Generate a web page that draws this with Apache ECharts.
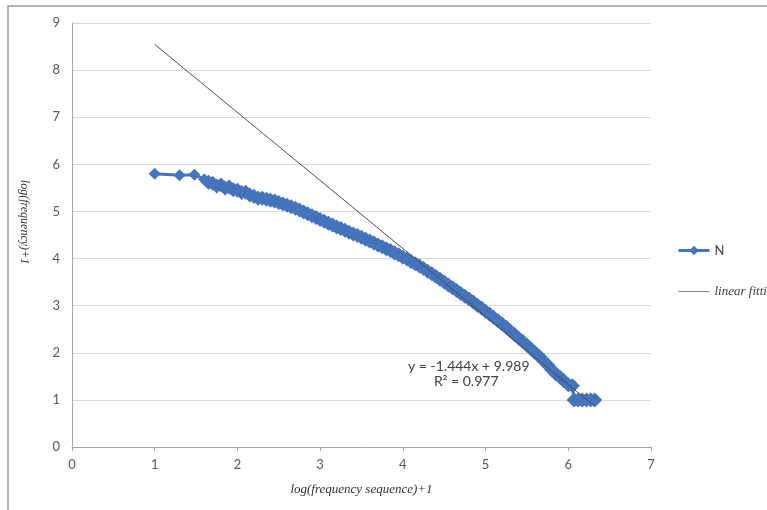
<!DOCTYPE html>
<html>
<head>
<meta charset="utf-8">
<script src="https://cdn.jsdelivr.net/npm/echarts@6/dist/echarts.min.js"></script>
<style>
  html, body { margin: 0; padding: 0; background: #fff; }
  #chart { width: 767px; height: 510px; }
</style>
</head>
<body>
<div id="chart"></div>
<script>
// N series: log(rank)+1 vs log(frequency)+1
const nX = [1.00, 1.30, 1.48, 1.60, 1.65, 1.70, 1.75, 1.80, 1.85, 1.90, 1.95, 2.00, 2.05, 2.10, 2.15, 2.20, 2.25, 2.30, 2.35, 2.40, 2.45,
  2.50, 2.55, 2.60, 2.65, 2.70, 2.75, 2.80, 2.85, 2.90, 2.95, 3.00, 3.05, 3.10, 3.15, 3.20, 3.25, 3.30, 3.35, 3.40, 3.45,
  3.50, 3.55, 3.60, 3.65, 3.70, 3.75, 3.80, 3.85, 3.90, 3.95, 4.00, 4.05, 4.10, 4.15, 4.20, 4.25, 4.30, 4.35, 4.40, 4.45,
  4.50, 4.55, 4.60, 4.65, 4.70, 4.75, 4.80, 4.85, 4.90, 4.95, 5.00, 5.05, 5.10, 5.15, 5.20, 5.25, 5.30, 5.35, 5.40, 5.45,
  5.50, 5.55, 5.60, 5.65, 5.70, 5.75, 5.80, 5.85, 5.90, 5.95, 6.00, 6.05, 6.07, 6.12, 6.17, 6.22, 6.27, 6.32]
const nY = [5.80, 5.77, 5.78, 5.68, 5.62, 5.60, 5.54, 5.56, 5.50, 5.52, 5.46, 5.45, 5.40, 5.41, 5.35, 5.32, 5.28, 5.28, 5.26, 5.24, 5.22,
  5.19, 5.16, 5.13, 5.10, 5.07, 5.03, 4.99, 4.95, 4.91, 4.87, 4.83, 4.79, 4.75, 4.71, 4.67, 4.64, 4.60, 4.56, 4.52, 4.49,
  4.45, 4.41, 4.37, 4.33, 4.29, 4.25, 4.21, 4.17, 4.12, 4.08, 4.03, 3.99, 3.94, 3.89, 3.84, 3.79, 3.73, 3.68, 3.62, 3.56,
  3.50, 3.44, 3.38, 3.32, 3.26, 3.20, 3.14, 3.08, 3.01, 2.95, 2.88, 2.82, 2.75, 2.68, 2.61, 2.54, 2.46, 2.39, 2.31, 2.24,
  2.16, 2.08, 2.00, 1.92, 1.83, 1.74, 1.64, 1.55, 1.48, 1.40, 1.32, 1.30, 1.00, 1.00, 1.00, 1.00, 1.00, 1.00]

// linear fitting y = -1.444x + 9.989, ends of the drawn line
const fitX = [1.00, 6.32]
const fitY = [8.545, 0.863]

const seriesNames = ['N', 'linear fitting']
const equationText = ['y = -1.444x + 9.989', 'R² = 0.977']

const labelColor = '#595959'
const labelFont = 'Lato'
const blue = '#4374BC'

let chart = echarts.init(document.getElementById('chart'))
chart.setOption({
  animation: false,
  grid: { left: 72, right: 116, top: 23, bottom: 63 },
  legend: {
    orient: 'vertical',
    left: 672,
    top: 239,
    padding: 5,
    itemWidth: 31,
    itemHeight: 12,
    itemGap: 28,
    data: [
      {
        name: seriesNames[0],
        lineStyle: { width: 3 },
        textStyle: { fontFamily: labelFont, fontSize: 13, color: '#404040' }
      },
      {
        name: seriesNames[1],
        lineStyle: { width: 1, color: '#7f7f7f' },
        itemStyle: { opacity: 0 },
        textStyle: { fontFamily: 'Liberation Serif', fontStyle: 'italic', fontSize: 13, color: '#404040' }
      }
    ]
  },
  xAxis: {
    type: 'value',
    min: 0,
    max: 7,
    interval: 1,
    name: 'log(frequency sequence)+1',
    nameLocation: 'middle',
    nameGap: 36,
    nameTextStyle: { fontFamily: 'Liberation Serif', fontStyle: 'italic', fontSize: 13, color: '#333' },
    axisLine: { lineStyle: { color: '#a6a6a6', width: 1 } },
    axisTick: { show: true, length: 4, lineStyle: { color: '#a6a6a6' } },
    axisLabel: { fontFamily: labelFont, fontSize: 13, color: labelColor, margin: 11 },
    splitLine: { show: false }
  },
  yAxis: {
    type: 'value',
    min: 0,
    max: 9,
    interval: 1,
    name: 'log(frequency)+1',
    nameLocation: 'middle',
    nameRotate: -90,
    nameGap: 42,
    nameTextStyle: { fontFamily: 'Liberation Serif', fontStyle: 'italic', fontSize: 12, color: '#333', padding: [0, 26, 0, 0] },
    axisLine: { show: true, lineStyle: { color: '#a6a6a6', width: 1 } },
    axisTick: { show: false },
    axisLabel: { fontFamily: labelFont, fontSize: 13, color: labelColor, margin: 12 },
    splitLine: { lineStyle: { color: '#d9d9d9', width: 1 } }
  },
  graphic: [
    {
      type: 'polyline',
      shape: { points: [[8, 510], [8, 6], [767, 6]] },
      style: { stroke: '#9a9a9a', lineWidth: 1.5, fill: null }
    },
    {
      type: 'text', left: 408, top: 359,
      style: { text: equationText[0], font: '14px Lato', fill: '#404040' }
    },
    {
      type: 'text', left: 434, top: 374,
      style: { text: equationText[1], font: '14px Lato', fill: '#404040' }
    }
  ],
  series: [
    {
      name: seriesNames[0],
      type: 'line',
      data: nX.map((x, i) => [x, nY[i]]),
      symbol: 'diamond',
      symbolSize: (v, p) => (p.dataIndex < 4 ? 12 : 15),
      showAllSymbol: true,
      color: blue,
      lineStyle: { width: 3, color: blue },
      itemStyle: { color: blue }
    },
    {
      name: seriesNames[1],
      type: 'line',
      data: fitX.map((x, i) => [x, fitY[i]]),
      symbol: 'none',
      color: '#4d4d4d',
      lineStyle: { width: 1, color: '#4d4d4d' },
      z: 10
    }
  ]
})
window.addEventListener('resize', () => chart.resize())
</script>
</body>
</html>
